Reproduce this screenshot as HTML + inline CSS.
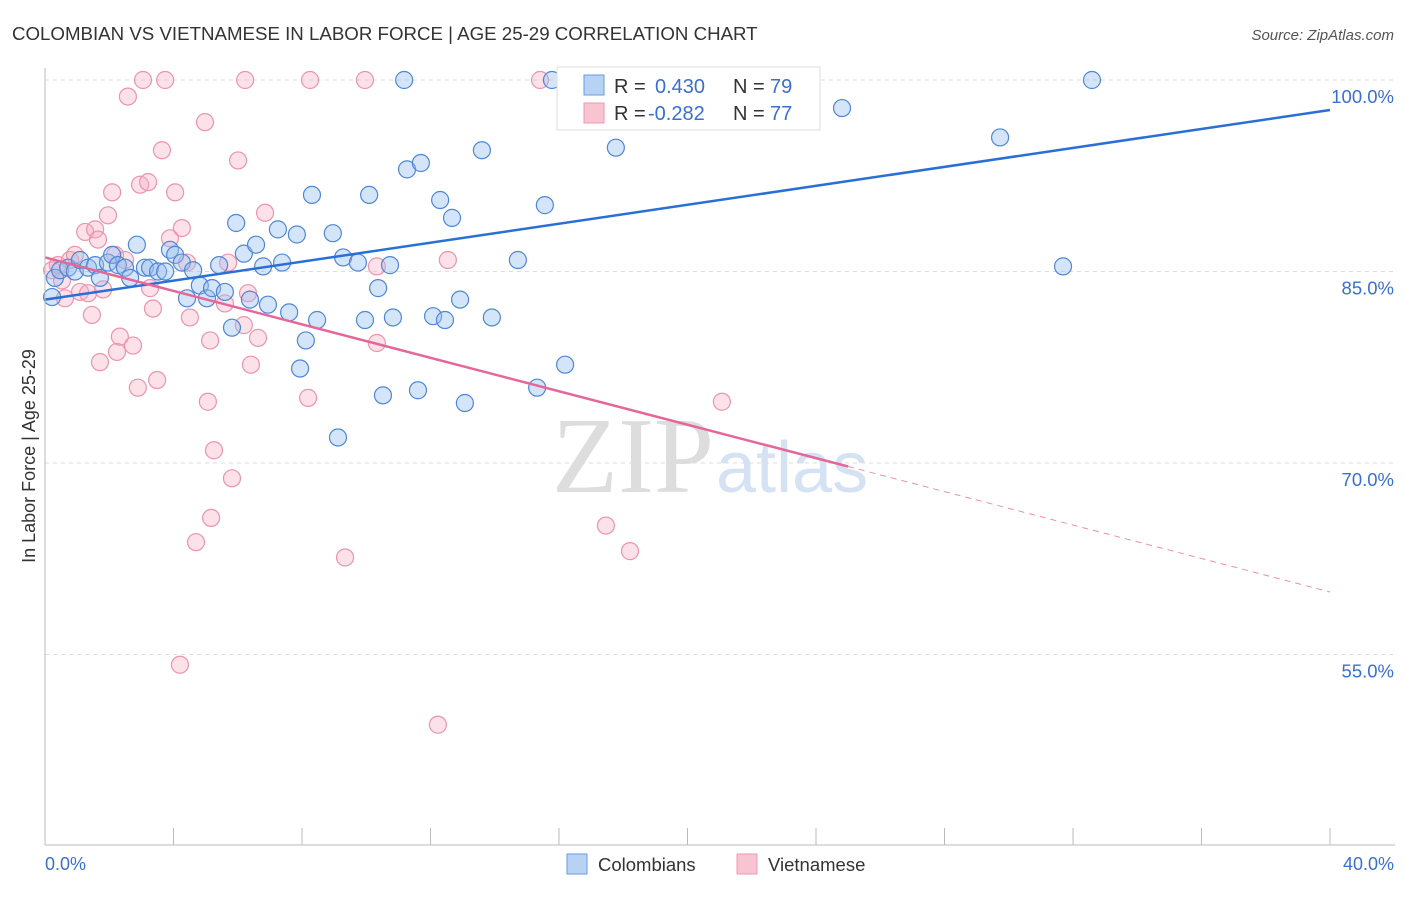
<!DOCTYPE html>
<html><head><meta charset="utf-8"><style>
body{margin:0;background:#fff;font-family:"Liberation Sans",sans-serif}
</style></head><body>
<svg id="c" width="1406" height="892" xmlns="http://www.w3.org/2000/svg">
<text x="12" y="40" font-size="18.7" fill="#333">COLOMBIAN VS VIETNAMESE IN LABOR FORCE | AGE 25-29 CORRELATION CHART</text>
<text x="1394" y="40" font-size="15" fill="#555" font-style="italic" text-anchor="end">Source: ZipAtlas.com</text>
<text x="35" y="456" font-size="18" fill="#333" text-anchor="middle" transform="rotate(-90 35 456)">In Labor Force | Age 25-29</text>
<text x="714" y="492" font-size="108" fill="#ddd" text-anchor="end" font-family="Liberation Serif">ZIP</text>
<text x="716" y="492" font-size="72" fill="#d4e2f4">atlas</text>
<g id="grid"></g><g id="pts"></g><g id="lines"></g>
<line x1="45" y1="68" x2="45" y2="845" stroke="#bbb"/>
<line x1="45" y1="845" x2="1395" y2="845" stroke="#bbb"/>
<text x="45" y="870" font-size="18" fill="#3a6fd0">0.0%</text>
<text x="1394" y="870" font-size="18" fill="#3a6fd0" text-anchor="end">40.0%</text>
<g>
<rect x="557" y="67" width="263" height="63" fill="#fff" stroke="#ddd"/>
<rect x="584" y="75" width="20" height="20" fill="#b8d2f4" stroke="#6a9ae0"/>
<rect x="584" y="103" width="20" height="20" fill="#f8c4d2" stroke="#eb9ab2"/>
<text x="614" y="93" font-size="20" fill="#333">R =</text><text x="655" y="93" font-size="20" fill="#3a6fd0">0.430</text>
<text x="733" y="93" font-size="20" fill="#333">N =</text><text x="770" y="93" font-size="20" fill="#3a6fd0">79</text>
<text x="614" y="120" font-size="20" fill="#333">R =</text><text x="648" y="120" font-size="20" fill="#3a6fd0">-0.282</text>
<text x="733" y="120" font-size="20" fill="#333">N =</text><text x="770" y="120" font-size="20" fill="#3a6fd0">77</text>
</g>
<g><rect x="567" y="854" width="20" height="20" fill="#b8d2f4" stroke="#6a9ae0"/><text x="598" y="871" font-size="18.5" fill="#333">Colombians</text></g>
<g><rect x="737" y="854" width="20" height="20" fill="#f8c4d2" stroke="#eb9ab2"/><text x="768" y="871" font-size="18.5" fill="#333">Vietnamese</text></g>
</svg>
<script>
const yTicks=[100,85,70,55];
const yTickLabels=["100.0%","85.0%","70.0%","55.0%"];
const xTicks=[0,4,8,12,16,20,24,28,32,36,40];
const blueX=[0.22,0.31,0.47,0.72,0.93,1.09,1.34,1.56,1.71,1.96,2.09,2.27,2.49,2.65,2.86,3.11,3.27,3.52,3.74,3.89,4.05,4.26,4.42,4.61,4.82,5.04,5.2,5.42,5.6,5.82,5.95,6.19,6.38,6.57,6.79,6.94,7.25,7.38,7.6,7.84,7.94,8.12,8.31,8.47,8.96,9.12,9.28,9.74,9.96,10.09,10.37,10.52,10.74,10.83,11.18,11.27,11.61,11.7,12.08,12.3,12.45,12.67,12.92,13.07,13.6,13.91,14.72,15.32,15.56,15.78,16.19,17.77,24.81,29.73,31.69,32.59,22.32];
const blueY=[83.0,84.5,85.1,85.3,85.0,85.9,85.3,85.5,84.5,85.7,86.3,85.5,85.3,84.5,87.1,85.3,85.3,85.0,85.0,86.7,86.3,85.7,82.9,85.1,83.9,82.9,83.7,85.5,83.4,80.6,88.8,86.4,82.8,87.1,85.4,82.4,88.3,85.7,81.8,87.9,77.4,79.6,91.0,81.2,88.0,72.0,86.1,85.7,81.2,91.0,83.7,75.3,85.5,81.4,100,93.0,75.7,93.5,81.5,90.6,81.2,89.2,82.8,74.7,94.5,81.4,85.9,75.9,90.2,100,77.7,94.7,97.8,95.5,85.4,100,100];
const pinkX=[0.22,0.4,0.53,0.62,0.78,0.93,1.09,1.25,1.34,1.46,1.56,1.65,1.71,1.81,1.96,2.09,2.18,2.24,2.33,2.49,2.58,2.74,2.89,2.96,3.05,3.21,3.27,3.36,3.49,3.64,3.74,3.89,4.05,4.2,4.26,4.42,4.51,4.7,4.98,5.07,5.14,5.26,5.17,5.6,5.7,5.82,6.01,6.19,6.23,6.32,6.41,6.63,6.85,8.19,8.25,9.34,9.96,10.33,10.33,12.23,12.54,15.41,17.46,18.21,21.07];
const pinkY=[85.1,85.5,84.3,82.9,85.9,86.3,83.4,88.1,83.3,81.6,88.3,87.5,77.9,83.6,89.4,91.2,86.3,78.7,79.9,85.9,98.7,79.2,75.9,91.8,100,92.0,83.7,82.1,76.5,94.5,100,87.6,91.2,54.2,88.4,85.7,81.4,63.8,96.7,74.8,79.6,71.0,65.7,82.5,85.7,68.8,93.7,80.8,100,83.3,77.7,79.8,89.6,75.1,100,62.6,100,85.4,79.4,49.5,85.9,100,65.1,63.1,74.8];
const blueTrend=[82.8,97.65];
const pinkTrend=[86.1,59.9];
const pinkSolidEnd=25;
const xs=v=>45+v*32.125, ys=v=>80+(100-v)*12.767;
const NS="http://www.w3.org/2000/svg";
function mk(t,a,p){const e=document.createElementNS(NS,t);for(const k in a)e.setAttribute(k,a[k]);p.appendChild(e);return e;}
const g=document.getElementById('grid');
yTicks.forEach((t,i)=>{
 const l=mk('line',{x1:45,x2:1395,y1:ys(t),y2:ys(t),stroke:'#ddd','stroke-dasharray':'4,4'},g);
 
 
 const tx=mk('text',{x:1394,y:ys(t)+23,'font-size':18.5,fill:'#3a6fd0','text-anchor':'end'},g);
 tx.textContent=yTickLabels[i];
 
 
});
xTicks.forEach(t=>{
 const l=mk('line',{x1:xs(t),x2:xs(t),y1:828,y2:845,stroke:'#bbb'},g);
 
 
});
const P=document.getElementById('pts');
pinkX.forEach((x,i)=>{
 const c=mk('circle',{cx:xs(x),cy:ys(pinkY[i]),r:8.5,fill:'rgba(246,170,192,0.35)',stroke:'#eb94ae','stroke-width':1.2},P);
 
 
});
blueX.forEach((x,i)=>{
 const c=mk('circle',{cx:xs(x),cy:ys(blueY[i]),r:8.5,fill:'rgba(150,190,240,0.4)',stroke:'#4f86d8','stroke-width':1.2},P);
 
 
});
const L=document.getElementById('lines');
const bl=mk('line',{x1:xs(0),y1:ys(blueTrend[0]),x2:xs(40),y2:ys(blueTrend[1]),stroke:'#2a6fd6','stroke-width':2.5},L);


const pm=pinkTrend[0]+(pinkTrend[1]-pinkTrend[0])*pinkSolidEnd/40;
const pl=mk('line',{x1:xs(0),y1:ys(pinkTrend[0]),x2:xs(pinkSolidEnd),y2:ys(pm),stroke:'#e5679a','stroke-width':2.5},L);


const pd=mk('line',{x1:xs(pinkSolidEnd),y1:ys(pm),x2:xs(40),y2:ys(pinkTrend[1]),stroke:'#e890b0','stroke-width':1,'stroke-dasharray':'6,5'},L);


</script>
</body></html>
